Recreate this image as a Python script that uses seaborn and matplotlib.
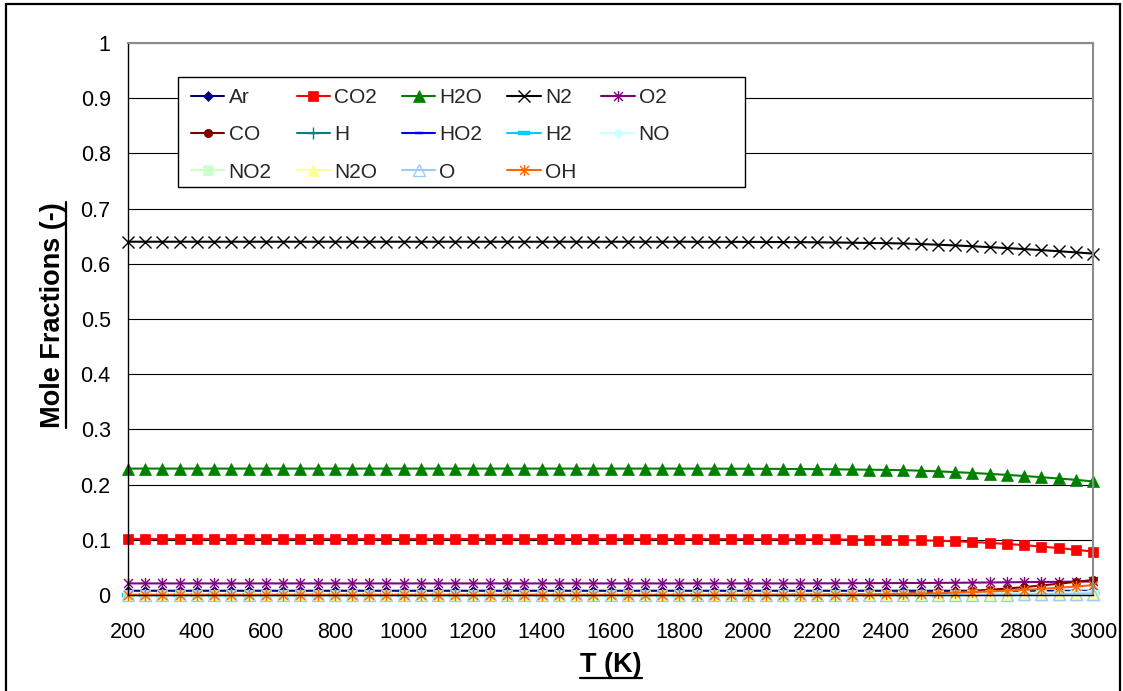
import numpy as np
import pandas as pd
import matplotlib
matplotlib.use("Agg")
import matplotlib.pyplot as plt
import seaborn as sns
from matplotlib.path import Path
from matplotlib.patches import Rectangle
from matplotlib.lines import Line2D

# ---------------- data ----------------
T = [200, 250, 300, 350, 400, 450, 500, 550, 600, 650,
     700, 750, 800, 850, 900, 950, 1000, 1050, 1100, 1150,
     1200, 1250, 1300, 1350, 1400, 1450, 1500, 1550, 1600, 1650,
     1700, 1750, 1800, 1850, 1900, 1950, 2000, 2050, 2100, 2150,
     2200, 2250, 2300, 2350, 2400, 2450, 2500, 2550, 2600, 2650,
     2700, 2750, 2800, 2850, 2900, 2950, 3000]

Ar = [0.0077, 0.0077, 0.0077, 0.0077, 0.0077, 0.0077, 0.0077, 0.0077, 0.0077, 0.0077,
      0.0077, 0.0077, 0.0077, 0.0077, 0.0077, 0.0077, 0.0077, 0.0077, 0.0077, 0.0077,
      0.0077, 0.0077, 0.0077, 0.0077, 0.0077, 0.0077, 0.0077, 0.0077, 0.0077, 0.0077,
      0.0077, 0.0077, 0.0077, 0.0077, 0.0077, 0.0077, 0.0077, 0.0077, 0.0077, 0.0077,
      0.0077, 0.0077, 0.0077, 0.0077, 0.0077, 0.0077, 0.0077, 0.0077, 0.0077, 0.0077,
      0.0077, 0.0077, 0.0077, 0.0076, 0.0076, 0.0075, 0.0075]

CO2 = [0.1015, 0.1015, 0.1015, 0.1015, 0.1015, 0.1015, 0.1015, 0.1015, 0.1015, 0.1015,
       0.1015, 0.1015, 0.1015, 0.1015, 0.1015, 0.1015, 0.1015, 0.1015, 0.1015, 0.1015,
       0.1015, 0.1015, 0.1015, 0.1015, 0.1015, 0.1015, 0.1015, 0.1015, 0.1015, 0.1015,
       0.1015, 0.1015, 0.1015, 0.1014, 0.1014, 0.1013, 0.1013, 0.1012, 0.1011, 0.1010,
       0.1008, 0.1006, 0.1004, 0.1001, 0.0998, 0.0995, 0.0990, 0.0983, 0.0973, 0.0960,
       0.0944, 0.0925, 0.0903, 0.0878, 0.0850, 0.0820, 0.0787]

H2O = [0.2290, 0.2290, 0.2290, 0.2290, 0.2290, 0.2290, 0.2290, 0.2290, 0.2290, 0.2290,
       0.2290, 0.2290, 0.2290, 0.2290, 0.2290, 0.2290, 0.2290, 0.2290, 0.2290, 0.2290,
       0.2290, 0.2290, 0.2290, 0.2290, 0.2290, 0.2290, 0.2290, 0.2290, 0.2290, 0.2290,
       0.2290, 0.2290, 0.2290, 0.2289, 0.2289, 0.2288, 0.2287, 0.2286, 0.2284, 0.2282,
       0.2280, 0.2277, 0.2274, 0.2270, 0.2266, 0.2261, 0.2252, 0.2240, 0.2226, 0.2211,
       0.2194, 0.2176, 0.2156, 0.2134, 0.2111, 0.2086, 0.2058]

N2 = [0.6400, 0.6400, 0.6400, 0.6400, 0.6400, 0.6400, 0.6400, 0.6400, 0.6400, 0.6400,
      0.6400, 0.6400, 0.6400, 0.6400, 0.6400, 0.6400, 0.6400, 0.6400, 0.6400, 0.6400,
      0.6400, 0.6400, 0.6400, 0.6400, 0.6400, 0.6400, 0.6400, 0.6400, 0.6400, 0.6400,
      0.6400, 0.6400, 0.6400, 0.6399, 0.6399, 0.6398, 0.6397, 0.6396, 0.6394, 0.6392,
      0.6389, 0.6386, 0.6382, 0.6378, 0.6374, 0.6368, 0.6358, 0.6346, 0.6333, 0.6318,
      0.6302, 0.6285, 0.6267, 0.6248, 0.6228, 0.6207, 0.6185]

O2 = [0.0210, 0.0210, 0.0210, 0.0210, 0.0210, 0.0210, 0.0210, 0.0210, 0.0210, 0.0210,
      0.0210, 0.0210, 0.0210, 0.0210, 0.0210, 0.0210, 0.0210, 0.0210, 0.0210, 0.0210,
      0.0210, 0.0210, 0.0210, 0.0210, 0.0210, 0.0210, 0.0210, 0.0210, 0.0210, 0.0210,
      0.0210, 0.0210, 0.0210, 0.0210, 0.0210, 0.0210, 0.0210, 0.0210, 0.0210, 0.0210,
      0.0211, 0.0212, 0.0213, 0.0214, 0.0215, 0.0216, 0.0218, 0.0220, 0.0222, 0.0224,
      0.0227, 0.0230, 0.0233, 0.0236, 0.0239, 0.0242, 0.0245]

CO = [0.0, 0.0, 0.0, 0.0, 0.0, 0.0, 0.0, 0.0, 0.0, 0.0,
      0.0, 0.0, 0.0, 0.0, 0.0, 0.0, 0.0, 0.0, 0.0, 0.0,
      0.0, 0.0, 0.0, 0.0, 0.0, 0.0, 0.0, 0.0, 0.0, 0.0,
      0.0, 0.0, 0.0, 0.0, 0.0, 0.0, 0.0, 0.0001, 0.0002, 0.0003,
      0.0005, 0.0007, 0.0010, 0.0014, 0.0019, 0.0026, 0.0034, 0.0045, 0.0058, 0.0074,
      0.0094, 0.0117, 0.0143, 0.0172, 0.0204, 0.0238, 0.0272]

H = [0.0, 0.0, 0.0, 0.0, 0.0, 0.0, 0.0, 0.0, 0.0, 0.0,
     0.0, 0.0, 0.0, 0.0, 0.0, 0.0, 0.0, 0.0, 0.0, 0.0,
     0.0, 0.0, 0.0, 0.0, 0.0, 0.0, 0.0, 0.0, 0.0, 0.0,
     0.0, 0.0, 0.0, 0.0, 0.0, 0.0, 0.0, 0.0, 0.0, 0.0,
     0.0, 0.0, 0.0, 0.0001, 0.0001, 0.0002, 0.0003, 0.0004, 0.0005, 0.0007,
     0.0009, 0.0012, 0.0015, 0.0019, 0.0023, 0.0028, 0.0034]

HO2 = [0.0, 0.0, 0.0, 0.0, 0.0, 0.0, 0.0, 0.0, 0.0, 0.0,
       0.0, 0.0, 0.0, 0.0, 0.0, 0.0, 0.0, 0.0, 0.0, 0.0,
       0.0, 0.0, 0.0, 0.0, 0.0, 0.0, 0.0, 0.0, 0.0, 0.0,
       0.0, 0.0, 0.0, 0.0, 0.0, 0.0, 0.0, 0.0, 0.0, 0.0,
       0.0, 0.0, 0.0, 0.0, 0.0, 0.0, 0.0, 0.0, 0.0, 0.0,
       0.0, 0.0, 0.0, 0.0, 0.0, 0.0001, 0.0001]

H2 = [0.0, 0.0, 0.0, 0.0, 0.0, 0.0, 0.0, 0.0, 0.0, 0.0,
      0.0, 0.0, 0.0, 0.0, 0.0, 0.0, 0.0, 0.0, 0.0, 0.0,
      0.0, 0.0, 0.0, 0.0, 0.0, 0.0, 0.0, 0.0, 0.0, 0.0,
      0.0, 0.0, 0.0, 0.0, 0.0, 0.0, 0.0, 0.0, 0.0, 0.0,
      0.0001, 0.0001, 0.0002, 0.0003, 0.0004, 0.0005, 0.0007, 0.0009, 0.0012, 0.0015,
      0.0019, 0.0024, 0.0029, 0.0035, 0.0042, 0.0050, 0.0059]

NO = [0.0, 0.0, 0.0, 0.0, 0.0, 0.0, 0.0, 0.0, 0.0, 0.0,
      0.0, 0.0, 0.0, 0.0, 0.0, 0.0, 0.0, 0.0, 0.0, 0.0,
      0.0, 0.0, 0.0, 0.0, 0.0, 0.0, 0.0, 0.0, 0.0, 0.0,
      0.0, 0.0, 0.0, 0.0, 0.0, 0.0, 0.0001, 0.0001, 0.0002, 0.0002,
      0.0003, 0.0004, 0.0005, 0.0006, 0.0008, 0.0010, 0.0012, 0.0015, 0.0018, 0.0022,
      0.0026, 0.0030, 0.0035, 0.0040, 0.0046, 0.0052, 0.0058]

NO2 = [0.0, 0.0, 0.0, 0.0, 0.0, 0.0, 0.0, 0.0, 0.0, 0.0,
       0.0, 0.0, 0.0, 0.0, 0.0, 0.0, 0.0, 0.0, 0.0, 0.0,
       0.0, 0.0, 0.0, 0.0, 0.0, 0.0, 0.0, 0.0, 0.0, 0.0,
       0.0, 0.0, 0.0, 0.0, 0.0, 0.0, 0.0, 0.0, 0.0, 0.0,
       0.0, 0.0, 0.0, 0.0, 0.0, 0.0, 0.0, 0.0, 0.0, 0.0,
       0.0, 0.0, 0.0, 0.0, 0.0, 0.0, 0.0]

N2O = [0.0, 0.0, 0.0, 0.0, 0.0, 0.0, 0.0, 0.0, 0.0, 0.0,
       0.0, 0.0, 0.0, 0.0, 0.0, 0.0, 0.0, 0.0, 0.0, 0.0,
       0.0, 0.0, 0.0, 0.0, 0.0, 0.0, 0.0, 0.0, 0.0, 0.0,
       0.0, 0.0, 0.0, 0.0, 0.0, 0.0, 0.0, 0.0, 0.0, 0.0,
       0.0, 0.0, 0.0, 0.0, 0.0, 0.0, 0.0, 0.0, 0.0, 0.0,
       0.0, 0.0, 0.0, 0.0, 0.0, 0.0, 0.0]

O = [0.0, 0.0, 0.0, 0.0, 0.0, 0.0, 0.0, 0.0, 0.0, 0.0,
     0.0, 0.0, 0.0, 0.0, 0.0, 0.0, 0.0, 0.0, 0.0, 0.0,
     0.0, 0.0, 0.0, 0.0, 0.0, 0.0, 0.0, 0.0, 0.0, 0.0,
     0.0, 0.0, 0.0, 0.0, 0.0, 0.0, 0.0, 0.0, 0.0, 0.0,
     0.0, 0.0, 0.0, 0.0001, 0.0001, 0.0001, 0.0002, 0.0003, 0.0004, 0.0005,
     0.0007, 0.0009, 0.0011, 0.0014, 0.0018, 0.0022, 0.0027]

OH = [0.0, 0.0, 0.0, 0.0, 0.0, 0.0, 0.0, 0.0, 0.0, 0.0,
      0.0, 0.0, 0.0, 0.0, 0.0, 0.0, 0.0, 0.0, 0.0, 0.0,
      0.0, 0.0, 0.0, 0.0, 0.0, 0.0, 0.0, 0.0, 0.0, 0.0,
      0.0, 0.0, 0.0, 0.0, 0.0, 0.0, 0.0, 0.0001, 0.0002, 0.0003,
      0.0004, 0.0006, 0.0008, 0.0011, 0.0015, 0.0020, 0.0026, 0.0033, 0.0042, 0.0052,
      0.0064, 0.0078, 0.0094, 0.0112, 0.0132, 0.0154, 0.0178]

SPECIES = ["Ar", "CO2", "H2O", "N2", "O2", "CO", "H", "HO2", "H2", "NO",
           "NO2", "N2O", "O", "OH"]
VALUES = [Ar, CO2, H2O, N2, O2, CO, H, HO2, H2, NO, NO2, N2O, O, OH]

X_TICKS = [200, 400, 600, 800, 1000, 1200, 1400, 1600, 1800, 2000,
           2200, 2400, 2600, 2800, 3000]
Y_TICKS = [0, 0.1, 0.2, 0.3, 0.4, 0.5, 0.6, 0.7, 0.8, 0.9, 1.0]
Y_TICK_LABELS = ["0", "0.1", "0.2", "0.3", "0.4", "0.5", "0.6", "0.7",
                 "0.8", "0.9", "1"]

for v in VALUES:
    assert len(v) == len(T), len(v)

# ---------------- style ----------------
sns.set_theme(style="white")
plt.rcParams["font.family"] = ["Liberation Sans", "DejaVu Sans"]

ASTER = Path([(-1, -1), (1, 1), (-1, 1), (1, -1), (0, -1.25), (0, 1.25)],
             [Path.MOVETO, Path.LINETO, Path.MOVETO, Path.LINETO,
              Path.MOVETO, Path.LINETO])
DASH = Path([(-1, -0.35), (1, -0.35), (1, 0.35), (-1, 0.35), (-1, -0.35)],
            [Path.MOVETO, Path.LINETO, Path.LINETO, Path.LINETO, Path.CLOSEPOLY])

STYLES = {
    "Ar":  dict(color="#000080", marker="D", ms=5, mfc="#000080", mec="#000080", mew=0.5),
    "CO2": dict(color="#FF0000", marker="s", ms=7.5, mfc="#FF0000", mec="#FF0000", mew=0.5),
    "H2O": dict(color="#008000", marker="^", ms=8.5, mfc="#008000", mec="#008000", mew=0.5),
    "N2":  dict(color="#000000", marker="x", ms=8, mfc="none", mec="#000000", mew=1.0),
    "O2":  dict(color="#800080", marker=ASTER, ms=8, mfc="none", mec="#800080", mew=1.0),
    "CO":  dict(color="#800000", marker="o", ms=6, mfc="#800000", mec="#800000", mew=0.5),
    "H":   dict(color="#008080", marker="+", ms=8, mfc="none", mec="#008080", mew=1.0),
    "HO2": dict(color="#0000FF", marker=DASH, ms=6, mfc="#0000FF", mec="#0000FF", mew=0.3),
    "H2":  dict(color="#00CCFF", marker=DASH, ms=8, mfc="#00CCFF", mec="#00CCFF", mew=0.3),
    "NO":  dict(color="#CCFFFF", marker="D", ms=5.5, mfc="#CCFFFF", mec="#CCFFFF", mew=0.5),
    "NO2": dict(color="#CCFFCC", marker="s", ms=7, mfc="#CCFFCC", mec="#CCFFCC", mew=0.5),
    "N2O": dict(color="#FFFF99", marker="^", ms=8, mfc="#FFFF99", mec="#FFFF99", mew=0.5),
    "O":   dict(color="#99CCFF", marker="^", ms=8, mfc="none", mec="#99CCFF", mew=1.0),
    "OH":  dict(color="#FF6600", marker=ASTER, ms=8, mfc="none", mec="#FF6600", mew=1.0),
}

W, Hpx = 1123, 691
fig = plt.figure(figsize=(W / 100, Hpx / 100), dpi=100)
fig.patch.set_facecolor("white")

def fx(px):
    return px / W

def fy(py):
    return 1 - py / Hpx

ax_l, ax_r, ax_t, ax_b = 128, 1093, 43, 595
ax = fig.add_axes([fx(ax_l), fy(ax_b), (ax_r - ax_l) / W, (ax_b - ax_t) / Hpx])
ax.set_facecolor("white")

for name, vals in zip(SPECIES, VALUES):
    st = STYLES[name]
    sns.lineplot(x=T, y=vals, ax=ax, color=st["color"], linewidth=1.5,
                 marker=st["marker"], markersize=st["ms"],
                 markerfacecolor=st["mfc"], markeredgecolor=st["mec"],
                 markeredgewidth=st["mew"], label=name, clip_on=False)

ax.set_xlim(200, 3000)
ax.set_ylim(0, 1)
ax.set_xticks(X_TICKS)
ax.set_xticklabels([str(t) for t in X_TICKS])
ax.set_yticks(Y_TICKS)
ax.set_yticklabels(Y_TICK_LABELS)
ax.tick_params(axis="both", which="major", labelsize=15.5, colors="black",
               direction="out", length=4.5, width=1)
ax.tick_params(axis="y", pad=8)
ax.tick_params(axis="x", pad=15)
ax.set_xlabel("")
ax.set_ylabel("")

ax.yaxis.grid(True, color="black", linewidth=0.8)
ax.xaxis.grid(False)
ax.set_axisbelow(True)
for s in ["left", "bottom"]:
    ax.spines[s].set_color("black")
    ax.spines[s].set_linewidth(1.0)
for s in ["right", "top"]:
    ax.spines[s].set_color("#8C8C8C")
    ax.spines[s].set_linewidth(1.5)

# legend
handles, labels = ax.get_legend_handles_labels()
hmap = dict(zip(labels, handles))
if ax.get_legend() is not None:
    ax.get_legend().remove()
order = ["Ar", "CO", "NO2", "CO2", "H", "N2O", "H2O", "HO2", "O",
         "N2", "H2", "OH", "O2", "NO"]

def axx(px):
    return (px - ax_l) / (ax_r - ax_l)

def axy(py):
    return (ax_b - py) / (ax_b - ax_t)

frame = Rectangle((axx(178), axy(187)), axx(745) - axx(178), axy(77) - axy(187),
                  transform=ax.transAxes, facecolor="white", edgecolor="black",
                  linewidth=1.0, zorder=4, clip_on=False)
ax.add_patch(frame)
leg = ax.legend([hmap[k] for k in order], order, loc="upper left",
                bbox_to_anchor=(axx(191), axy(88)), borderaxespad=0,
                borderpad=0, ncol=5, frameon=False, fontsize=15,
                handlelength=1.6, handletextpad=0.2, columnspacing=1.2,
                labelspacing=0.88)
leg.set_zorder(5)

# axis titles
xl = fig.text(fx(611), fy(665), "T (K)", ha="center", va="center",
              fontsize=19.5, fontweight="bold", color="black")
yl = fig.text(fx(53), fy(315), "Mole Fractions (-)", ha="center", va="center",
              rotation=90, fontsize=19.5, fontweight="bold", color="black")

# outer chart border
fig.add_artist(Rectangle((fx(6), fy(700)), fx(1120) - fx(6), fy(4) - fy(700),
                         transform=fig.transFigure, facecolor="none",
                         edgecolor="black", linewidth=1.6, clip_on=False))

# underlines
fig.canvas.draw()
rend = fig.canvas.get_renderer()
bb = xl.get_window_extent(rend)
fig.add_artist(Line2D([bb.x0 / W, bb.x1 / W], [(bb.y0 + 0.5) / Hpx] * 2,
                      transform=fig.transFigure, color="black", linewidth=1.6))
bb = yl.get_window_extent(rend)
fig.add_artist(Line2D([(bb.x1 - 0.5) / W] * 2, [bb.y0 / Hpx, bb.y1 / Hpx],
                      transform=fig.transFigure, color="black", linewidth=1.6))

fig.savefig("out.png", dpi=100)
